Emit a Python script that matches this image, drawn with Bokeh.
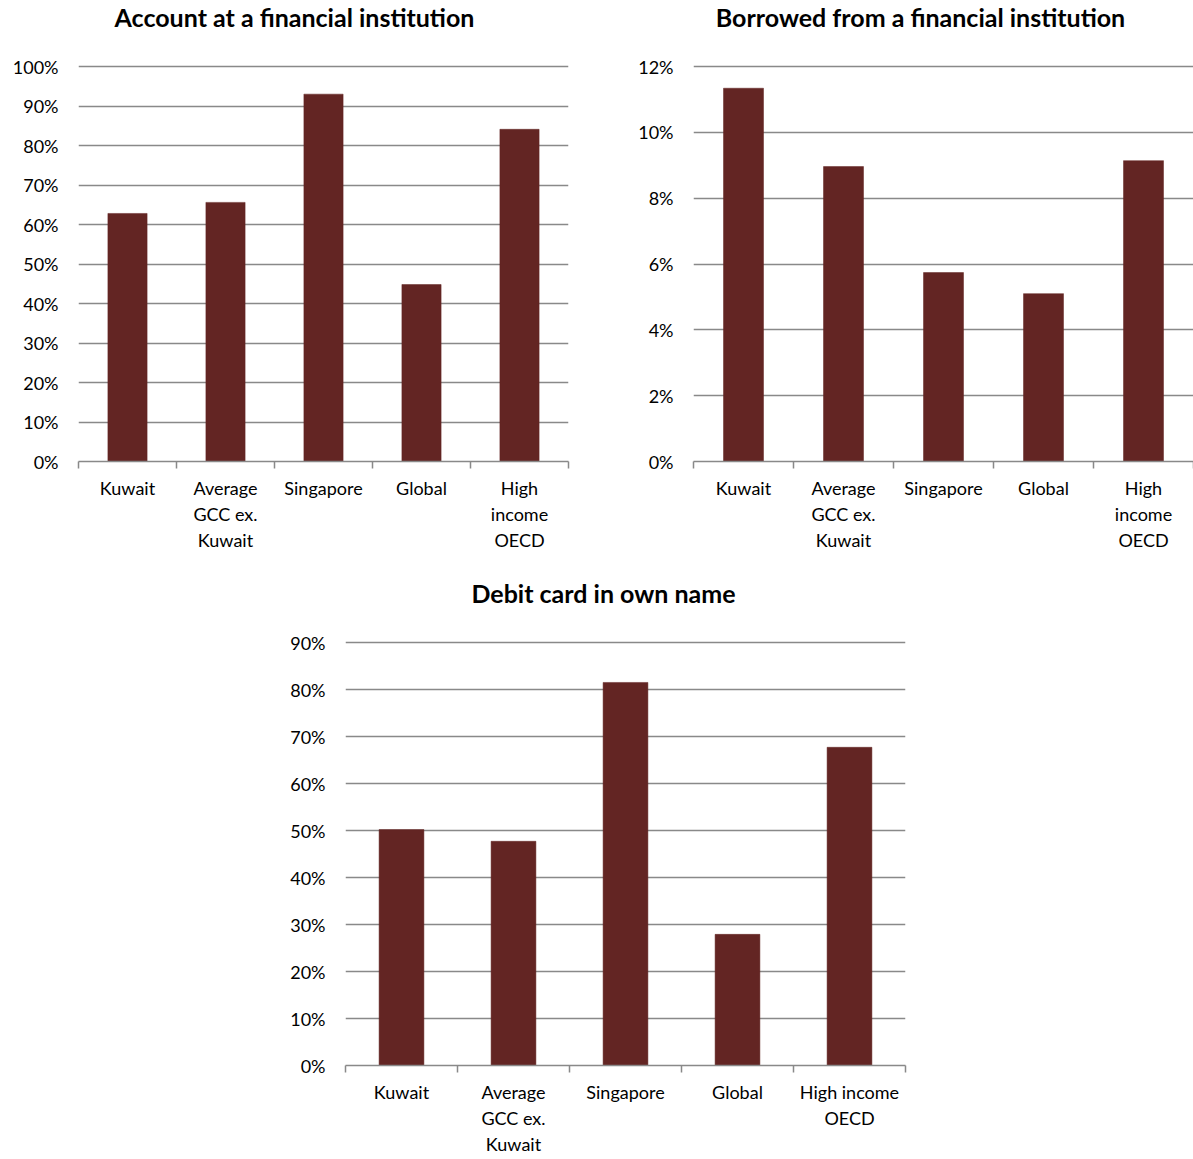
from bokeh.plotting import figure
from bokeh.layouts import column, row
from bokeh.models import (Range1d, FixedTicker, NumeralTickFormatter,
                          Spacer, ColumnDataSource)
from bokeh.core.properties import value
from bokeh.embed import file_html
from bokeh.resources import INLINE

# Category labels (multi-line, as printed under each bar)
labels_top = ["Kuwait", "Average\nGCC ex.\nKuwait", "Singapore", "Global", "High\nincome\nOECD"]
labels_bottom = ["Kuwait", "Average\nGCC ex.\nKuwait", "Singapore", "Global", "High income\nOECD"]

# Share of adults (fraction of 1)
account_values = [0.628, 0.656, 0.930, 0.448, 0.841]
borrowed_values = [0.1134, 0.0896, 0.0574, 0.0510, 0.0914]
debit_values = [0.502, 0.477, 0.815, 0.279, 0.677]

titles = ["Account at a financial institution",
          "Borrowed from a financial institution",
          "Debit card in own name"]

BAR = "#632523"
GRID = "#898989"
FONT = "Lato"
PAD = 2  # px of headroom so the top gridline is not clipped


def title_strip(text, width, height, left, right, cx, cy):
    # The strip's frame is aligned with the chart frame below it, so its
    # x range is expressed in the chart's pixel coordinates.
    t = figure(width=width, height=height, output_backend="svg",
               toolbar_location=None, x_range=Range1d(left, width - right),
               y_range=Range1d(0, height), min_border=0)
    t.axis.visible = False
    t.grid.visible = False
    t.outline_line_color = None
    t.text(x=[cx], y=[height - cy], text=[text], text_align="center",
           text_baseline="middle", text_font=value(FONT),
           text_font_style="bold", text_font_size="25px", text_color="black")
    return t


def make_chart(labels, values, ymax, ystep, width, height,
               left, right, top, bottom):
    n = len(labels)
    fh = height - top - bottom
    p = figure(width=width, height=height, output_backend="svg",
               toolbar_location=None, x_range=Range1d(0, n),
               y_range=Range1d(0, ymax * (fh + PAD) / fh),
               min_border_left=left, min_border_right=right,
               min_border_top=top - PAD, min_border_bottom=bottom)
    p.outline_line_color = None
    p.background_fill_color = "white"
    p.border_fill_color = "white"

    centers = [i + 0.5 for i in range(n)]
    src = ColumnDataSource(dict(x=centers, top=values))
    p.vbar(x="x", top="top", bottom=0, width=0.4, source=src,
           fill_color=BAR, line_color=BAR, line_width=0.5)

    # x axis: labels at bar centres, tick marks at category boundaries
    xa = p.xaxis[0]
    xa.ticker = FixedTicker(ticks=centers, minor_ticks=list(range(n + 1)))
    xa.major_label_overrides = {c: lab for c, lab in zip(centers, labels)}
    xa.major_tick_line_color = None
    xa.major_tick_out = 0
    xa.major_tick_in = 0
    xa.minor_tick_out = 7
    xa.minor_tick_in = 0
    xa.minor_tick_line_color = GRID
    xa.minor_tick_line_width = 1.5
    xa.axis_line_color = GRID
    xa.axis_line_width = 1.5
    xa.major_label_standoff = 8
    xa.major_label_text_font = FONT
    xa.major_label_text_font_size = "18px"
    xa.major_label_text_color = "black"
    xa.major_label_text_line_height = 1.2
    p.xgrid.visible = False

    # y axis: percent labels, no axis line or ticks
    nt = int(round(ymax / ystep))
    ya = p.yaxis[0]
    ya.ticker = FixedTicker(ticks=[round(i * ystep, 4) for i in range(nt + 1)])
    ya.formatter = NumeralTickFormatter(format="0%")
    ya.axis_line_color = None
    ya.major_tick_line_color = None
    ya.minor_tick_line_color = None
    ya.major_tick_out = 0
    ya.major_tick_in = 0
    ya.major_label_standoff = 20
    ya.major_label_text_font = FONT
    ya.major_label_text_font_size = "18px"
    ya.major_label_text_color = "black"
    p.ygrid.ticker = ya.ticker
    p.ygrid.grid_line_color = GRID
    p.ygrid.grid_line_width = 1.5
    return p


TH = 40  # height of the title strips
t1 = title_strip(titles[0], 600, TH, 78, 32, 294, 16)
t2 = title_strip(titles[1], 593, TH, 93, 0, 320, 16)
t3 = title_strip(titles[2], 695, TH, 95, 40, 353, 22)

p1 = make_chart(labels_top, account_values, 1.0, 0.1,
                600, 570 - TH, 78, 32, 66 - TH, 109)
p2 = make_chart(labels_top, borrowed_values, 0.12, 0.02,
                593, 570 - TH, 93, 0, 66 - TH, 109)
p3 = make_chart(labels_bottom, debit_values, 0.9, 0.1,
                695, 589 - TH, 95, 40, 72 - TH, 94)

layout = column(
    row(column(t1, p1), column(t2, p2)),
    row(Spacer(width=250, height=589), column(t3, p3)),
)

with open("out.html", "w") as f:
    f.write(file_html(layout, INLINE))
